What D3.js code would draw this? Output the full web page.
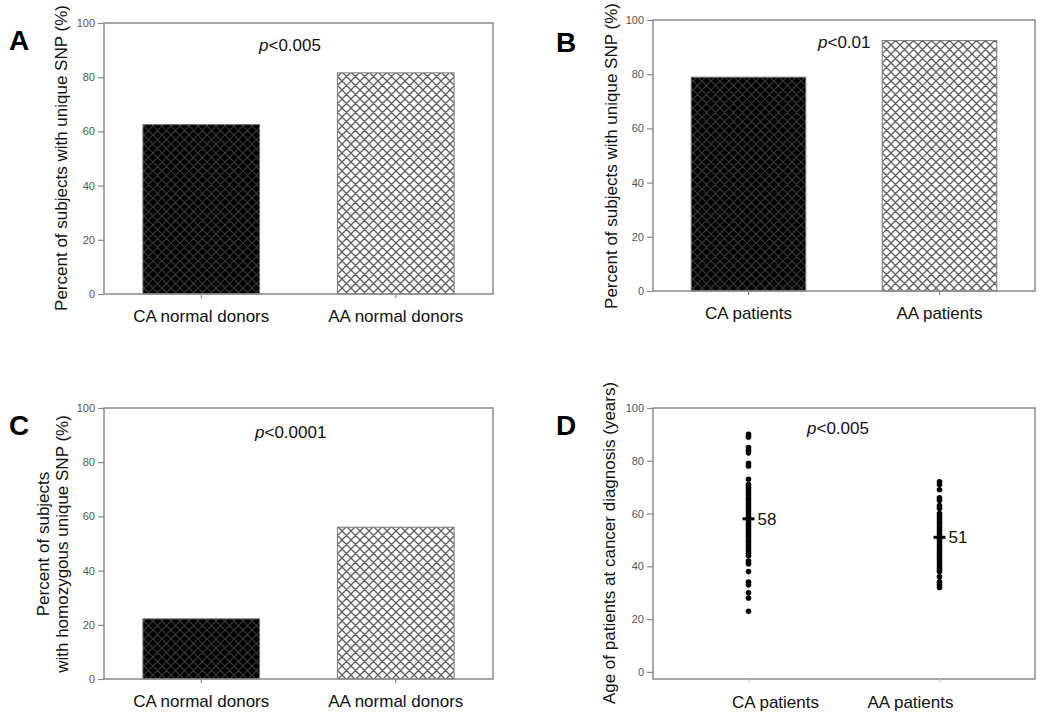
<!DOCTYPE html>
<html>
<head>
<meta charset="utf-8">
<script src="https://cdn.jsdelivr.net/npm/d3@7"></script>
<style>
  html, body { margin: 0; padding: 0; background: #fff; }
  svg { display: block; }
  text { font-family: "Liberation Sans", Arial, sans-serif; }
</style>
</head>
<body>
<svg id="chart" width="1050" height="715"></svg>
<script>
// ---------------- data ----------------
const donorCategories = ["CA normal donors", "AA normal donors"];
const patientCategories = ["CA patients", "AA patients"];
const panelAValues = [62.5, 81.6];
const panelBValues = [78.9, 92.4];
const panelCValues = [22.2, 56.0];
const caPatientAges = [90, 89, 85, 84, 83, 79, 78, 73, 71, 70, 69, 68, 67, 66, 65, 64, 63, 62, 61, 60,
  59, 58, 57, 56, 55, 54, 53, 52, 51, 50, 49, 48, 47, 46, 45, 44, 42, 41, 38, 34, 33, 30, 28, 23];
const aaPatientAges = [72, 71, 69, 66, 65, 63, 62, 60, 59, 58, 57, 56, 55, 54, 53, 52, 51, 50, 49, 48,
  47, 46, 45, 44, 43, 42, 41, 40, 39, 38, 36, 34, 33, 32];
const ageMedians = [58, 51];
const yTickValues = [0, 20, 40, 60, 80, 100];
const panelLetters = ["A", "B", "C", "D"];
const pLabels = ["<0.005", "<0.01", "<0.0001", "<0.005"];

// ---------------- setup ----------------
const svg = d3.select("#chart");
const FRAME = "#8a8a8a";
const TICKTXT = "#555";

const defs = svg.append("defs");
function hatch(id, bg, line, w) {
  const s = 9;
  const p = defs.append("pattern").attr("id", id)
    .attr("patternUnits", "userSpaceOnUse").attr("width", s).attr("height", s);
  p.append("rect").attr("width", s).attr("height", s).attr("fill", bg);
  p.append("path").attr("d", `M0,0L${s},${s}M${s},0L0,${s}M-1,${s-1}L1,${s+1}M${s-1},-1L${s+1},1M-1,1L1,-1M${s-1},${s+1}L${s+1},${s-1}`)
    .attr("stroke", line).attr("stroke-width", w).attr("fill", "none");
}
hatch("hatchDark", "#000", "#383838", 1.2);
hatch("hatchLight", "#fff", "#5e5e5e", 1.3);
const fills = ["url(#hatchDark)", "url(#hatchLight)"];

function styleAxis(g) {
  g.select(".domain").remove();
  g.selectAll(".tick line").attr("stroke", FRAME).attr("stroke-width", 1.2);
}

function drawFrame(g, box) {
  g.append("rect").attr("x", box.left).attr("y", box.top)
    .attr("width", box.right - box.left).attr("height", box.bottom - box.top)
    .attr("fill", "none").attr("stroke", FRAME).attr("stroke-width", 1.5);
}

function yAxis(g, box, y) {
  const ax = g.append("g").attr("transform", `translate(${box.left},0)`)
    .call(d3.axisLeft(y).tickValues(yTickValues).tickSize(6).tickPadding(3));
  styleAxis(ax);
  ax.selectAll(".tick text").attr("fill", TICKTXT).style("font-size", "11px")
    .style("font-family", "'Liberation Sans', Arial, sans-serif");
}

function yTitle(g, x, cy, lines) {
  const t = g.append("text").attr("transform", `translate(${x},${cy}) rotate(-90)`)
    .attr("text-anchor", "middle").style("font-size", "17px").attr("fill", "#111");
  lines.forEach((l, i) => {
    t.append("tspan").attr("x", 0).attr("dy", i === 0 ? -(lines.length - 1) * 19 : 19).text(l);
  });
}

function letter(g, x, y, s) {
  g.append("text").attr("x", x).attr("y", y).text(s)
    .style("font-size", "28px").style("font-weight", "bold").attr("fill", "#000");
}

function pText(g, x, y, s) {
  const t = g.append("text").attr("x", x).attr("y", y).style("font-size", "17px").attr("fill", "#111");
  t.append("tspan").style("font-style", "italic").text("p");
  t.append("tspan").text(s);
}

function barPanel(box, cats, vals, idx, titleLines, titleX, titleCY, pPos, letterPos) {
  const g = svg.append("g");
  const x = d3.scaleBand().domain(cats).range([box.left, box.right]).paddingInner(0.4).paddingOuter(0.2);
  const y = d3.scaleLinear().domain([0, 100]).range([box.bottom, box.top]);
  g.selectAll("rect.bar").data(cats).join("rect").attr("class", "bar")
    .attr("x", d => x(d)).attr("width", x.bandwidth())
    .attr("y", (d, i) => y(vals[i])).attr("height", (d, i) => y(0) - y(vals[i]))
    .attr("fill", (d, i) => fills[i]).attr("stroke", "#777").attr("stroke-width", 1);
  drawFrame(g, box);
  yAxis(g, box, y);
  const xa = g.append("g").attr("transform", `translate(0,${box.bottom})`)
    .call(d3.axisBottom(x).tickSize(4).tickPadding(12));
  styleAxis(xa);
  xa.selectAll(".tick text").attr("fill", "#111").style("font-size", "17px")
    .style("font-family", "'Liberation Sans', Arial, sans-serif");
  yTitle(g, titleX, titleCY, titleLines);
  pText(g, pPos[0], pPos[1], pLabels[idx]);
  letter(g, letterPos[0], letterPos[1], panelLetters[idx]);
}

// Panel A
barPanel({left: 104, right: 493, top: 23, bottom: 294}, donorCategories, panelAValues, 0,
  ["Percent of subjects with unique SNP (%)"], 67, 158, [259, 51], [9, 50]);
// Panel B
barPanel({left: 653, right: 1035, top: 20, bottom: 291}, patientCategories, panelBValues, 1,
  ["Percent of subjects with unique SNP (%)"], 617, 156, [818, 48], [556, 52]);
// Panel C
barPanel({left: 104, right: 493, top: 408, bottom: 679}, donorCategories, panelCValues, 2,
  ["Percent of subjects", "with homozygous unique SNP (%)"], 68, 544, [255, 438], [9, 435]);

// Panel D (dot plot)
(function () {
  const box = {left: 653, right: 1035, top: 408, bottom: 679};
  const g = svg.append("g");
  const x = d3.scalePoint().domain(patientCategories).range([box.left, box.right]).padding(0.5);
  const xLab = d3.scalePoint().domain(patientCategories).range([775, 910]);
  const y = d3.scaleLinear().domain([-2.7, 100]).range([box.bottom, box.top]);
  drawFrame(g, box);
  yAxis(g, box, y);
  const xt = g.append("g").attr("transform", `translate(0,${box.bottom})`)
    .call(d3.axisBottom(x).tickSize(3).tickFormat(""));
  styleAxis(xt);
  xt.selectAll(".tick line").attr("stroke", "#ccc");
  const xl = g.append("g").attr("transform", `translate(0,${box.bottom})`)
    .call(d3.axisBottom(xLab).tickSize(0).tickPadding(17));
  styleAxis(xl);
  xl.selectAll(".tick text").attr("fill", "#111").style("font-size", "17px")
    .style("font-family", "'Liberation Sans', Arial, sans-serif");

  const groups = [caPatientAges, aaPatientAges];
  groups.forEach((ages, i) => {
    const cx = x(patientCategories[i]);
    g.append("g").selectAll("circle").data(ages).join("circle")
      .attr("cx", cx).attr("cy", d => y(d)).attr("r", 2.8).attr("fill", "#000");
    g.append("line").attr("x1", cx - 6).attr("x2", cx + 6)
      .attr("y1", y(ageMedians[i])).attr("y2", y(ageMedians[i]))
      .attr("stroke", "#000").attr("stroke-width", 3);
    g.append("text").attr("x", cx + 9).attr("y", y(ageMedians[i]) + 6)
      .style("font-size", "17px").attr("fill", "#111").text(ageMedians[i]);
  });
  yTitle(g, 615, 543, ["Age of patients at cancer diagnosis (years)"]);
  pText(g, 807, 434, pLabels[3]);
  letter(g, 556, 435, panelLetters[3]);
})();
</script>
</body>
</html>
